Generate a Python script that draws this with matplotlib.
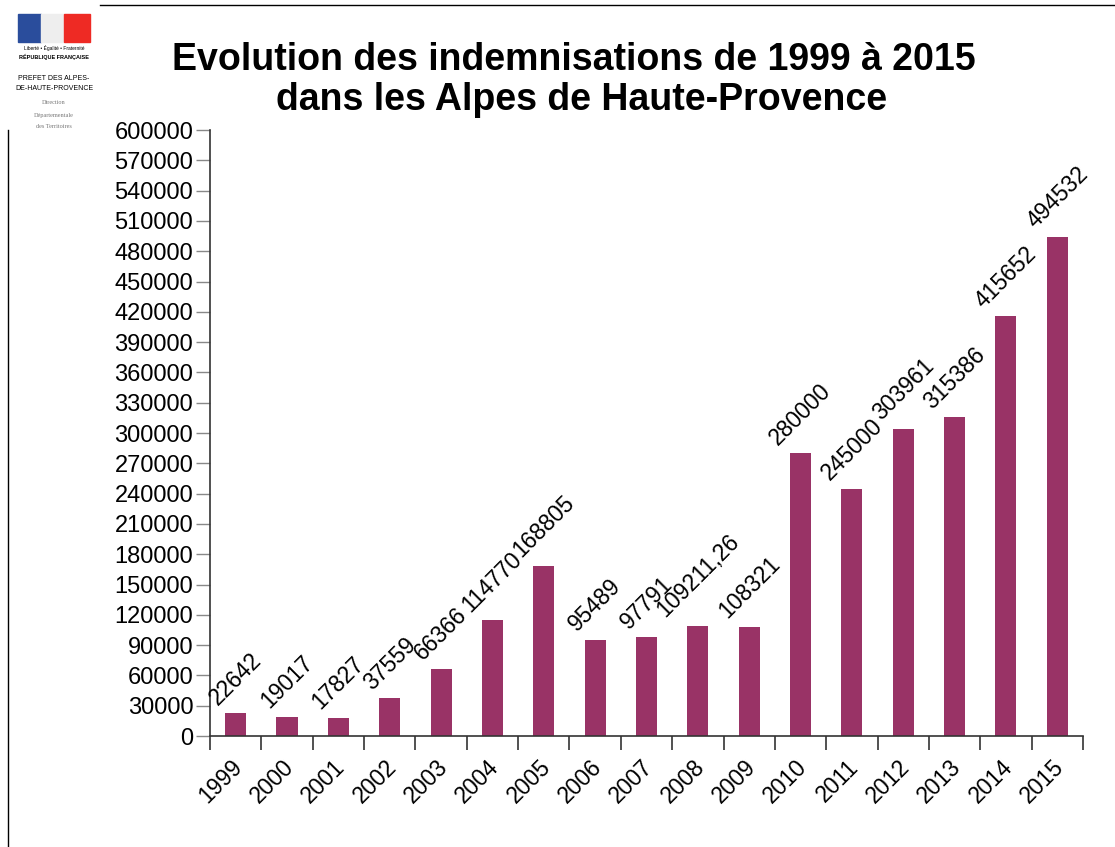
import matplotlib.pyplot as plt
from matplotlib.patches import Rectangle
from matplotlib.lines import Line2D
import numpy as np

plt.rcParams['font.family'] = ['Liberation Sans', 'DejaVu Sans']

annees = ["1999", "2000", "2001", "2002", "2003", "2004", "2005", "2006", "2007",
          "2008", "2009", "2010", "2011", "2012", "2013", "2014", "2015"]
montants = [22642, 19017, 17827, 37559, 66366, 114770, 168805, 95489, 97791,
            109211.26, 108321, 280000, 245000, 303961, 315386, 415652, 494532]
etiquettes = ["22642", "19017", "17827", "37559", "66366", "114770", "168805", "95489",
              "97791", "109211,26", "108321", "280000", "245000", "303961", "315386",
              "415652", "494532"]
graduations = list(range(0, 600001, 30000))

couleur = "#993366"

fig = plt.figure(figsize=(11.15, 8.47), dpi=100)
ax = fig.add_axes([0.1883, 0.131, 0.7830, 0.7155])

x = np.arange(len(annees))
ax.bar(x, montants, width=0.41, color=couleur, zorder=2)

for xi, v, lab in zip(x, montants, etiquettes):
    ax.text(xi, v + 4000, lab, rotation=45, ha="center", va="bottom", fontsize=16.5)

ax.set_xlim(-0.5, len(annees) - 0.5)
ax.set_ylim(0, 600000)
ax.set_yticks(graduations)
ax.set_yticklabels([str(g) for g in graduations], fontsize=17)

# graduations des categories aux limites, libelles legerement decales
ax.set_xticks(np.arange(-0.5, len(annees), 1.0))
ax.set_xticklabels([])
ax.set_xticks(x - 0.1, minor=True)
ax.set_xticklabels(annees, minor=True, rotation=45, ha="right", va="top",
                   rotation_mode="anchor", fontsize=16.5)
ax.tick_params(axis="x", which="minor", length=0, pad=14)
ax.tick_params(axis="x", which="major", length=10, width=1.2, color="#333333", direction="out")
ax.tick_params(axis="y", length=10, width=1, color="#888888", direction="out", pad=2)

for s in ["top", "right"]:
    ax.spines[s].set_visible(False)
ax.spines["left"].set_color("#333333")
ax.spines["bottom"].set_color("#333333")
ax.spines["left"].set_linewidth(1.2)
ax.spines["bottom"].set_linewidth(1.2)

fig.text(0.515, 1 - 70 / 847, "Evolution des indemnisations de 1999 à 2015", ha="center",
         va="baseline", fontsize=27, fontweight="bold")
fig.text(0.5215, 1 - 110 / 847, "dans les Alpes de Haute-Provence", ha="center",
         va="baseline", fontsize=27, fontweight="bold")

# traits de la page
fig.add_artist(Line2D([100 / 1115, 1.0], [1 - 5 / 847, 1 - 5 / 847], color="black", lw=1))
fig.add_artist(Line2D([8 / 1115, 8 / 1115], [0, 1 - 130 / 847], color="black", lw=1))

# logo de la prefecture
fig.add_artist(Rectangle((18 / 1115, 1 - 42 / 847), 23 / 1115, 28 / 847, color="#2a4d9c"))
fig.add_artist(Rectangle((41 / 1115, 1 - 42 / 847), 23 / 1115, 28 / 847, color="#eeeeee"))
fig.add_artist(Rectangle((64 / 1115, 1 - 42 / 847), 26 / 1115, 28 / 847, color="#ee2a24"))
fig.text(54 / 1115, 1 - 48 / 847, "Liberté • Égalité • Fraternité", fontsize=3.5, ha="center", va="center")
fig.text(54 / 1115, 1 - 57 / 847, "RÉPUBLIQUE FRANÇAISE", fontsize=4, ha="center", va="center",
         fontweight="bold")
fig.text(54 / 1115, 1 - 78 / 847, "PREFET DES ALPES-", fontsize=5, ha="center", va="center")
fig.text(54 / 1115, 1 - 88 / 847, "DE-HAUTE-PROVENCE", fontsize=5, ha="center", va="center")
fig.text(54 / 1115, 1 - 102 / 847, "Direction", fontsize=4.5, ha="center", va="center",
         color="#777777", family="Liberation Serif")
fig.text(54 / 1115, 1 - 115 / 847, "Départementale", fontsize=4.5, ha="center", va="center",
         color="#777777", family="Liberation Serif")
fig.text(54 / 1115, 1 - 127 / 847, "des Territoires", fontsize=4.5, ha="center", va="center",
         color="#777777", family="Liberation Serif")

fig.savefig("out.png", dpi=100)
